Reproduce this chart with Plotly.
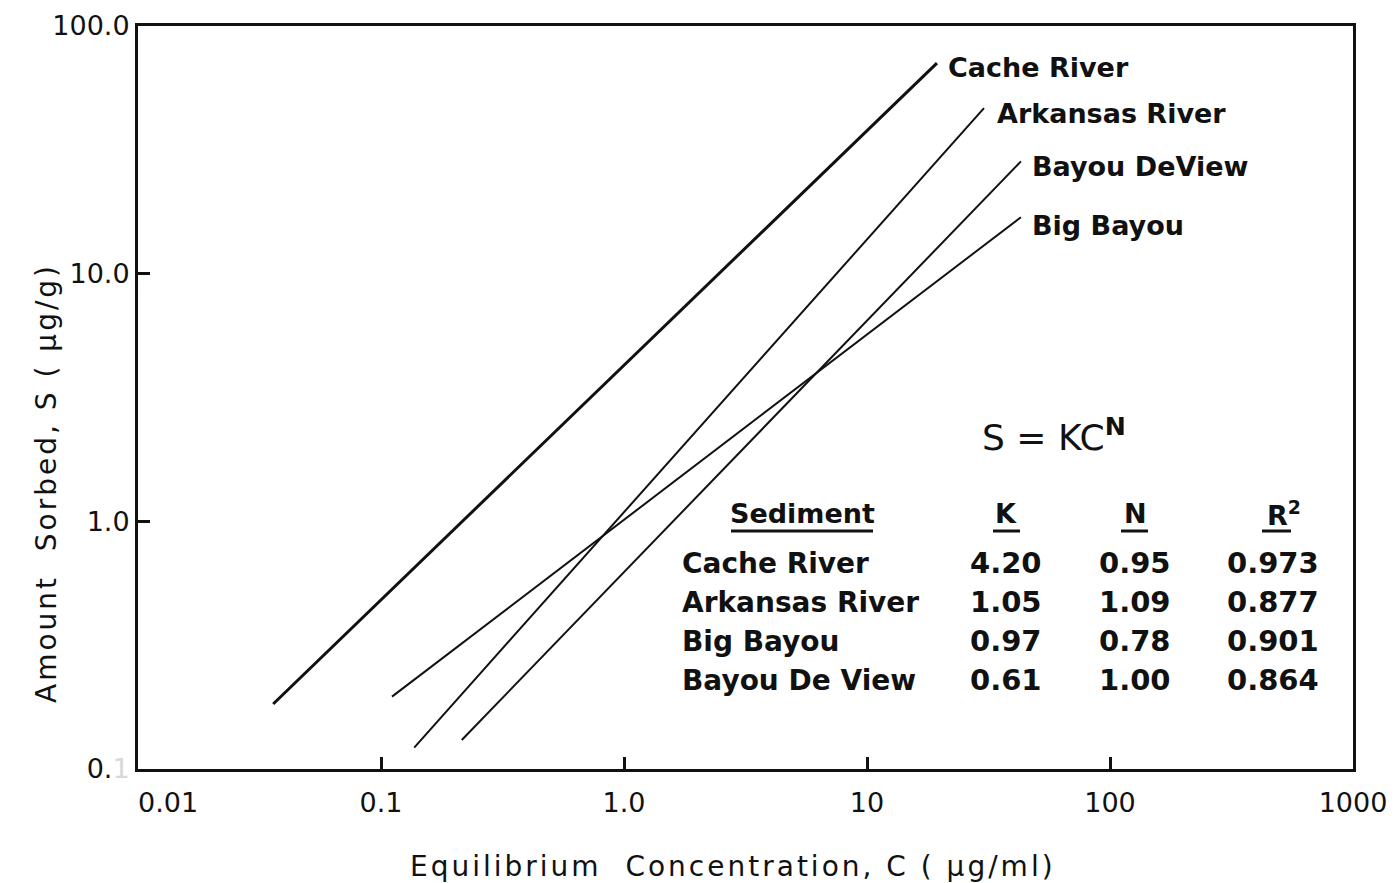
import plotly.graph_objects as go

# ---- data ----
series_names = ["Cache River", "Arkansas River", "Bayou DeView", "Big Bayou"]
cache_c = [0.036, 19.4]
cache_s = [0.183, 70.8]
ark_c = [0.137, 30.3]
ark_s = [0.122, 46.6]
bdv_c = [0.215, 43.0]
bdv_s = [0.131, 28.4]
bb_c = [0.111, 43.0]
bb_s = [0.196, 16.9]

x_tickvals = [0.01, 0.1, 1, 10, 100, 1000]
x_ticktext = ["\u00a0" * 7 + "0.01", "0.1", "1.0", "10", "100", "1000"]
y_tickvals = [0.1, 1, 10, 100]
y_ticktext = ["0.<span style='color:#d8d8d8'>1</span>", "1.0", "10.0", "100.0"]

table_sediment = ["Cache River", "Arkansas River", "Big Bayou", "Bayou De View"]
table_K = [4.20, 1.05, 0.97, 0.61]
table_N = [0.95, 1.09, 0.78, 1.00]
table_R2 = [0.973, 0.877, 0.901, 0.864]

x_title = "Equilibrium\u00a0\u00a0Concentration,\u00a0C\u00a0(\u00a0μg/ml)"
y_title = "Amount\u00a0\u00a0Sorbed,\u00a0S\u00a0(\u00a0μg/g)"

# ---- layout geometry (pixels) ----
W, H = 1395, 883
L, R, T, B = 130, 50, 18, 122
PW, PH = W - L - R, H - T - B


def px(x):
    return (x - L) / PW


def py(y):
    return (H - B - y) / PH


FONT = "DejaVu Sans"
INK = "#111111"

fig = go.Figure()
line_widths = [3, 2, 2, 2]
for name, cx, sy, lw in zip(series_names,
                            [cache_c, ark_c, bdv_c, bb_c],
                            [cache_s, ark_s, bdv_s, bb_s],
                            line_widths):
    fig.add_trace(go.Scatter(x=cx, y=sy, mode="lines", name=name,
                             line=dict(color=INK, width=lw), showlegend=False))

ann = []
# curve labels
label_pos = [(938, 60), (987, 106), (1022, 158), (1022, 218)]
for name, (lx, ly) in zip(series_names, label_pos):
    ann.append(dict(text=name, x=px(lx), y=py(ly), xref="paper", yref="paper",
                    xanchor="left", yanchor="middle", showarrow=False,
                    font=dict(family=FONT, size=27, color=INK, weight="bold")))

# equation
ann.append(dict(text="S = KC<sup><b>N</b></sup>", x=px(1046), y=py(427), xref="paper", yref="paper",
                xanchor="center", yanchor="middle", showarrow=False,
                font=dict(family=FONT, size=36, color=INK)))

# table header
hdr = [("Sediment", 794), ("K", 998), ("N", 1127), ("R<sup>2</sup>", 1276)]
for t, hx in hdr:
    ann.append(dict(text=t, x=px(hx), y=py(505), xref="paper", yref="paper",
                    xanchor="center", yanchor="middle", showarrow=False,
                    font=dict(family=FONT, size=27, color=INK, weight="bold")))

rows_y = [555, 594, 633, 672]
for i, ry in enumerate(rows_y):
    ann.append(dict(text=table_sediment[i], x=px(672), y=py(ry), xref="paper", yref="paper",
                    xanchor="left", yanchor="middle", showarrow=False,
                    font=dict(family=FONT, size=28, color=INK, weight="bold")))
    for val, cx, fmt in [(table_K[i], 998, "{:.2f}"), (table_N[i], 1127, "{:.2f}"),
                         (table_R2[i], 1265, "{:.3f}")]:
        ann.append(dict(text=fmt.format(val), x=px(cx), y=py(ry), xref="paper", yref="paper",
                        xanchor="center", yanchor="middle", showarrow=False,
                        font=dict(family=FONT, size=29, color=INK, weight="bold")))

# axis titles
ann.append(dict(text=f"<span style='letter-spacing:3px'>{x_title}</span>",
                x=px(725), y=py(858), xref="paper", yref="paper",
                xanchor="center", yanchor="middle", showarrow=False,
                font=dict(family=FONT, size=28, color=INK)))
ann.append(dict(text=f"<span style='letter-spacing:3px'>{y_title}</span>",
                x=px(38), y=py(475), xref="paper", yref="paper", textangle=-90,
                xanchor="center", yanchor="middle", showarrow=False,
                font=dict(family=FONT, size=28, color=INK)))

shapes = []
for x0, x1 in [(723, 865), (985, 1012), (1113, 1140), (1254, 1283)]:
    shapes.append(dict(type="line", xref="paper", yref="paper",
                       x0=px(x0), x1=px(x1), y0=py(523), y1=py(523),
                       line=dict(color=INK, width=3)))

fig.update_layout(
    width=W, height=H, autosize=False,
    margin=dict(l=L, r=R, t=T, b=B),
    paper_bgcolor="white", plot_bgcolor="white",
    annotations=ann, shapes=shapes,
    xaxis=dict(type="log", range=[-2, 3], tickvals=x_tickvals, ticktext=x_ticktext,
               ticks="inside", ticklen=12, tickwidth=3, tickcolor=INK,
               showline=True, linewidth=3, linecolor=INK, mirror=True,
               showgrid=False, zeroline=False, automargin=False,
               tickfont=dict(family=FONT, size=27, color=INK),
               ticklabelstandoff=8),
    yaxis=dict(type="log", range=[-1, 2], tickvals=y_tickvals, ticktext=y_ticktext,
               ticks="inside", ticklen=12, tickwidth=3, tickcolor=INK,
               showline=True, linewidth=3, linecolor=INK, mirror=True,
               showgrid=False, zeroline=False, automargin=False,
               tickfont=dict(family=FONT, size=27, color=INK)),
)

fig.write_html("out.html")
